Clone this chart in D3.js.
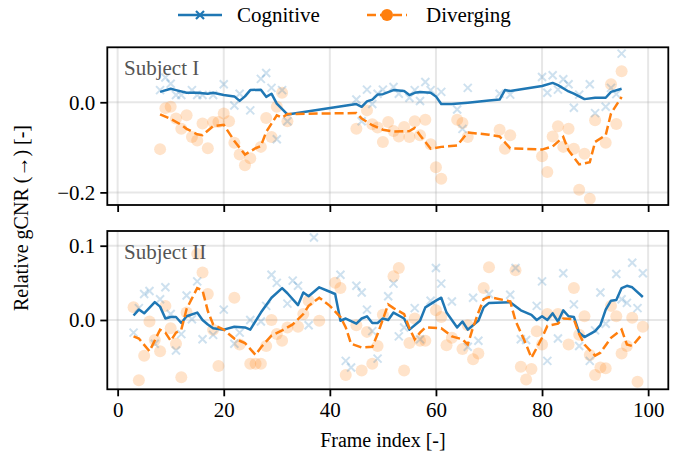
<!DOCTYPE html>
<html>
<head>
<meta charset="utf-8">
<script src="https://cdn.jsdelivr.net/npm/d3@7"></script>
<style>
   body { margin: 0; background: #fff; }
   text { font-family: "Liberation Serif", "DejaVu Serif", serif; }
</style>
</head>
<body>
<div id="chart"></div>
<script>
// Subject I — raw points [frame, value]
const s1CogPts = [[8,0.027],[9,0.055],[10,0.041],[11,0.016],[12,0.016],[14,0.027],[15,0.016],[16,0.016],[18,0.016],[20,0.040],[22,-0.007],[23,0.019],[25,-0.018],[27,0.052],[28,0.065],[29,0.032],[30,-0.082],[31,0.027],[32,-0.042],
   [45,0.006],[46,-0.042],[47,0.028],[48,-0.004],[49,0.019],[50,0.028],[52,0.034],[53,0.019],[55,0.010],[56,0.027],[57,0.003],[58,0.045],[59,0.027],[61,0.023],[64,-0.016],[65,-0.059],[66,0.032],
   [72,0.019],[74,0.017],[80,0.056],[81,0.021],[82,0.060],[83,0.028],[84,0.051],[85,0.040],[86,-0.012],[87,0.017],[89,0.040],[90,-0.024],[92,-0.010],[93,0.032],[94,0.018],[95,0.108]];
const s1DivPts = [[8,-0.104],[9,-0.013],[10,-0.010],[11,-0.036],[12,-0.059],[13,-0.029],[14,-0.077],[15,-0.085],[16,-0.047],[17,-0.102],[18,-0.044],[19,-0.044],[20,-0.025],[21,-0.042],[22,-0.090],[23,-0.116],[24,-0.140],[25,-0.124],[27,-0.099],[28,-0.035],[29,-0.077],[30,-0.010],[31,0.021],[32,-0.042],
   [45,-0.059],[47,-0.018],[48,-0.049],[49,-0.056],[50,-0.088],[51,-0.044],[52,-0.064],[53,-0.076],[54,-0.055],[55,-0.077],[56,-0.042],[57,-0.073],[58,-0.039],[59,-0.093],[60,-0.144],[61,-0.170],[64,-0.039],[65,-0.046],[66,-0.077],
   [72,-0.061],[73,-0.103],[74,-0.073],[80,-0.120],[81,-0.155],[82,-0.076],[83,-0.053],[84,-0.099],[85,-0.059],[86,-0.103],[87,-0.194],[88,-0.114],[89,-0.214],[90,-0.040],[92,-0.090],[93,0.040],[94,-0.048],[95,0.069]];
// Subject I — smoothed curves
const s1CogLine = [[8,0.023],[10,0.030],[11,0.027],[13,0.021],[15,0.021],[17,0.019],[18,0.021],[20,0.016],[22,0.013],[23,0.003],[24,0.013],[25,0.027],[27,0.028],[28,0.012],[29,0.019],[30,-0.003],[32,-0.027],
   [45,-0.004],[46,-0.010],[47,0.002],[48,0.006],[49,0.017],[50,0.018],[52,0.027],[54,0.025],[55,0.016],[56,0.021],[57,0.023],[59,0.021],[60,0.013],[61,-0.004],[63,-0.004],[66,-0.001],[70,0.004],
   [72,0.006],[73,0.027],[74,0.025],[80,0.036],[82,0.043],[83,0.038],[85,0.024],[86,0.019],[88,0.007],[90,0.010],[92,0.010],[93,0.023],[95,0.030]];
const s1DivLine = [[8,-0.027],[10,-0.037],[12,-0.050],[13,-0.059],[15,-0.071],[16,-0.073],[18,-0.053],[20,-0.050],[22,-0.086],[24,-0.116],[26,-0.102],[27,-0.097],[28,-0.066],[30,-0.029],[31,-0.034],[32,-0.026],
   [45,-0.024],[46,-0.036],[48,-0.051],[50,-0.061],[52,-0.065],[55,-0.064],[56,-0.057],[57,-0.073],[59,-0.103],[61,-0.099],[64,-0.096],[66,-0.067],[70,-0.072],
   [72,-0.076],[74,-0.102],[80,-0.105],[82,-0.098],[84,-0.077],[85,-0.107],[87,-0.138],[89,-0.133],[90,-0.088],[92,-0.073],[93,-0.025],[95,0.012]];

// Subject II — raw points
const s2CogPts = [[3,-0.017],[4,0.016],[5,0.035],[6,0.039],[7,-0.032],[8,0.028],[9,0.044],[10,0.008],[11,-0.041],[12,-0.019],[13,0.033],[14,0.001],[15,0.052],[16,-0.026],[18,-0.020],[20,0.014],[22,-0.032],[23,-0.017],[25,0.000],[27,-0.002],[28,0.019],[29,0.061],[30,0.050],[32,0.022],[33,0.053],[34,0.046],[36,-0.007],[37,0.111],
   [42,0.061],[43,-0.055],[44,-0.064],[45,0.046],[46,0.037],[47,0.014],[48,-0.015],[49,-0.052],[51,0.032],[52,0.049],[53,-0.022],[54,-0.010],[56,0.016],[57,-0.026],[59,0.026],[60,0.070],[61,0.049],[63,0.025],[66,-0.036],[67,0.030],[68,-0.028],[70,0.035],
   [74,0.034],[75,0.070],[76,-0.026],[77,-0.027],[79,0.019],[80,0.052],[81,-0.055],[83,-0.025],[84,0.063],[86,0.021],[87,-0.035],[89,-0.055],[90,-0.014],[91,0.037],[92,-0.005],[94,0.062],[95,0.028],[96,0.023],[97,0.077],[98,0.016],[99,0.063]];
const s2DivPts = [[3,0.017],[4,-0.081],[5,-0.048],[6,-0.002],[7,-0.027],[8,-0.042],[9,0.019],[10,-0.011],[11,-0.032],[12,-0.077],[13,0.010],[15,0.089],[16,0.064],[17,0.035],[18,-0.013],[19,-0.062],[22,0.030],[23,-0.033],[25,-0.059],[26,-0.059],[27,-0.059],[28,-0.035],[29,0.000],[30,-0.019],[31,-0.028],[32,-0.010],[34,-0.009],[35,0.008],[36,0.026],[38,-0.001],
   [41,0.050],[42,0.043],[43,-0.074],[45,-0.007],[46,-0.068],[47,-0.016],[48,-0.059],[49,-0.035],[50,0.007],[52,0.059],[53,0.070],[54,-0.068],[55,-0.031],[56,0.002],[57,-0.028],[58,-0.028],[60,0.013],[61,0.004],[62,-0.034],[63,-0.024],[65,-0.039],[66,-0.007],[67,-0.053],[68,-0.045],[69,0.043],[70,0.071],
   [75,0.067],[76,-0.063],[77,-0.080],[78,-0.066],[79,-0.015],[80,-0.033],[81,0.008],[83,0.008],[85,-0.033],[86,0.043],[87,-0.020],[88,0.005],[89,-0.047],[90,-0.074],[91,-0.064],[92,-0.065],[93,0.019],[94,0.005],[95,-0.045],[96,-0.035],[97,0.003],[98,-0.083],[99,-0.009]];
// Subject II — smoothed curves
const s2CogLine = [[3,0.006],[4,0.014],[5,0.009],[7,0.024],[8,0.018],[9,0.002],[10,0.004],[11,0.004],[12,-0.004],[13,0.005],[15,0.010],[16,0.000],[17,-0.006],[18,-0.011],[20,-0.013],[22,-0.009],[24,-0.010],[25,-0.013],[27,0.010],[29,0.030],[31,0.043],[32,0.036],[34,0.020],[35,0.037],[36,0.032],[38,0.044],[40,0.038],[41,0.035],
   [42,-0.001],[43,0.002],[45,-0.005],[46,0.002],[47,0.005],[48,-0.004],[49,-0.004],[50,0.002],[51,0.000],[52,0.010],[54,0.002],[55,-0.013],[57,-0.001],[58,0.017],[60,0.026],[61,0.030],[62,0.010],[64,-0.010],[65,-0.002],[66,-0.013],[68,-0.001],[69,0.017],[70,0.023],
   [74,0.024],[76,0.013],[78,0.007],[79,0.000],[80,0.005],[81,0.000],[82,0.009],[83,-0.002],[84,0.013],[85,0.005],[86,0.004],[87,-0.017],[88,-0.023],[90,-0.015],[91,-0.007],[92,0.014],[93,0.026],[94,0.027],[95,0.043],[96,0.046],[97,0.044],[99,0.031]];
const s2DivLine = [[3,-0.022],[4,-0.025],[6,-0.042],[8,-0.013],[9,-0.017],[10,-0.028],[11,-0.017],[12,-0.013],[13,0.015],[15,0.043],[16,0.040],[17,0.012],[18,-0.006],[20,-0.013],[22,-0.025],[24,-0.031],[26,-0.047],[27,-0.037],[29,-0.021],[31,-0.014],[33,-0.006],[35,0.008],[36,0.019],[38,0.030],[40,0.019],
   [42,0.004],[43,-0.010],[44,-0.032],[46,-0.037],[48,-0.036],[49,-0.019],[51,0.021],[52,0.016],[54,0.008],[55,-0.011],[56,-0.026],[57,-0.017],[58,-0.010],[61,-0.011],[63,-0.022],[65,-0.026],[66,-0.033],[67,-0.010],[68,0.010],[69,0.028],[70,0.031],
   [74,0.025],[75,-0.001],[77,-0.033],[78,-0.051],[80,-0.024],[81,-0.008],[83,-0.005],[84,0.002],[86,0.001],[87,-0.019],[88,-0.033],[90,-0.048],[91,-0.044],[93,-0.024],[95,-0.013],[96,-0.033],[97,-0.035],[99,-0.018]];

const xTicks = [0, 20, 40, 60, 80, 100];
const s1YTicks = [-0.2, 0.0];
const s2YTicks = [0.0, 0.1];
const seriesNames = ['Cognitive', 'Diverging'];
const subjectNames = ['Subject I', 'Subject II'];

const width = 688, height = 460;
const blue = '#1f77b4', orange = '#ff7f0e';
const fontSize = 21;

const svg = d3.select('#chart').append('svg')
   .attr('width', width)
   .attr('height', height);

const x = d3.scaleLinear().domain([-1.95, 103.8]).range([107.3, 668.3]);

const panels = [
   { name: subjectNames[0], cogPts: s1CogPts, divPts: s1DivPts, cogLine: s1CogLine, divLine: s1DivLine,
     top: 47.3, bottom: 205, domain: [-0.228, 0.122], ticks: s1YTicks, labels: false },
   { name: subjectNames[1], cogPts: s2CogPts, divPts: s2DivPts, cogLine: s2CogLine, divLine: s2DivLine,
     top: 231, bottom: 389.3, domain: [-0.0933, 0.1198], ticks: s2YTicks, labels: true }
];

const fmt = d => d3.format('.1f')(d).replace('-', '\u2212');

panels.forEach(function(p, i) {
   const y = d3.scaleLinear().domain(p.domain).range([p.bottom, p.top]);
   const g = svg.append('g');

   g.append('clipPath').attr('id', 'clip' + i)
      .append('rect')
      .attr('x', x.range()[0]).attr('y', p.top)
      .attr('width', x.range()[1] - x.range()[0]).attr('height', p.bottom - p.top);

   // grid
   g.selectAll('.vgrid').data(xTicks).enter().append('line')
      .attr('x1', d => x(d)).attr('x2', d => x(d))
      .attr('y1', p.top).attr('y2', p.bottom)
      .attr('stroke', '#b0b0b0').attr('stroke-opacity', 0.3).attr('stroke-width', 2);
   g.selectAll('.hgrid').data(p.ticks).enter().append('line')
      .attr('x1', x.range()[0]).attr('x2', x.range()[1])
      .attr('y1', d => y(d)).attr('y2', d => y(d))
      .attr('stroke', '#b0b0b0').attr('stroke-opacity', 0.3).attr('stroke-width', 2);

   const plot = g.append('g').attr('clip-path', 'url(#clip' + i + ')');

   // raw points
   plot.selectAll('.dot').data(p.divPts).enter().append('circle')
      .attr('cx', d => x(d[0])).attr('cy', d => y(d[1]))
      .attr('r', 6)
      .attr('fill', orange).attr('fill-opacity', 0.22);

   const s = 4;
   plot.selectAll('.cross').data(p.cogPts).enter().append('path')
      .attr('d', d => {
         const cx = x(d[0]), cy = y(d[1]);
         return `M${cx - s},${cy - s}L${cx + s},${cy + s}M${cx - s},${cy + s}L${cx + s},${cy - s}`;
      })
      .attr('stroke', blue).attr('stroke-opacity', 0.22).attr('stroke-width', 2).attr('fill', 'none');

   // smoothed lines
   const line = d3.line().x(d => x(d[0])).y(d => y(d[1]));
   plot.append('path').datum(p.cogLine)
      .attr('d', line)
      .attr('fill', 'none').attr('stroke', blue).attr('stroke-width', 2.5)
      .attr('stroke-linejoin', 'round');
   plot.append('path').datum(p.divLine)
      .attr('d', line)
      .attr('fill', 'none').attr('stroke', orange).attr('stroke-width', 2.5)
      .attr('stroke-dasharray', '9,4');

   // axes
   const yAxis = d3.axisLeft(y).tickValues(p.ticks).tickFormat(fmt).tickSizeOuter(0).tickSize(7).tickPadding(5);
   const ya = g.append('g').attr('transform', `translate(${x.range()[0]},0)`).call(yAxis);
   const xAxis = d3.axisBottom(x).tickValues(xTicks).tickSizeOuter(0).tickSize(7).tickPadding(6)
      .tickFormat(p.labels ? d3.format('d') : '');
   const xa = g.append('g').attr('transform', `translate(0,${p.bottom})`).call(xAxis);
   [ya, xa].forEach(a => {
      a.select('.domain').remove();
      a.selectAll('.tick line').attr('stroke', '#000').attr('stroke-width', 1.8);
      a.selectAll('.tick text').attr('fill', '#000').style('font-size', fontSize + 'px')
         .style('font-family', '"Liberation Serif", serif');
   });

   // frame
   g.append('rect')
      .attr('x', x.range()[0]).attr('y', p.top)
      .attr('width', x.range()[1] - x.range()[0]).attr('height', p.bottom - p.top)
      .attr('fill', 'none').attr('stroke', '#000').attr('stroke-width', 1.8);

   g.append('text')
      .attr('x', 124).attr('y', p.top + 28)
      .attr('fill', '#555').style('font-size', fontSize + 'px')
      .text(p.name);
});

// axis labels
svg.append('text')
   .attr('x', (x(0) + x(100)) / 2).attr('y', 447)
   .attr('text-anchor', 'middle').style('font-size', '20px')
   .text('Frame index [-]');
svg.append('text')
   .attr('transform', 'translate(28,218) rotate(-90)')
   .attr('text-anchor', 'middle').style('font-size', '20px')
   .text('Relative gCNR (\u2192) [-]');

// legend
const legend = svg.append('g');
const ly = 15;
legend.append('line').attr('x1', 178).attr('x2', 222).attr('y1', ly).attr('y2', ly)
   .attr('stroke', blue).attr('stroke-width', 2.5);
legend.append('path')
   .attr('d', `M${200 - 4},${ly - 4}L${200 + 4},${ly + 4}M${200 - 4},${ly + 4}L${200 + 4},${ly - 4}`)
   .attr('stroke', blue).attr('stroke-width', 2.2);
legend.append('text').attr('x', 237).attr('y', ly + 7).style('font-size', fontSize + 'px').text(seriesNames[0]);
legend.append('line').attr('x1', 367).attr('x2', 407).attr('y1', ly).attr('y2', ly)
   .attr('stroke', orange).attr('stroke-width', 2.5).attr('stroke-dasharray', '9,4');
legend.append('circle').attr('cx', 387).attr('cy', ly).attr('r', 6).attr('fill', orange);
legend.append('text').attr('x', 426).attr('y', ly + 7).style('font-size', fontSize + 'px').text(seriesNames[1]);
</script>
</body>
</html>
